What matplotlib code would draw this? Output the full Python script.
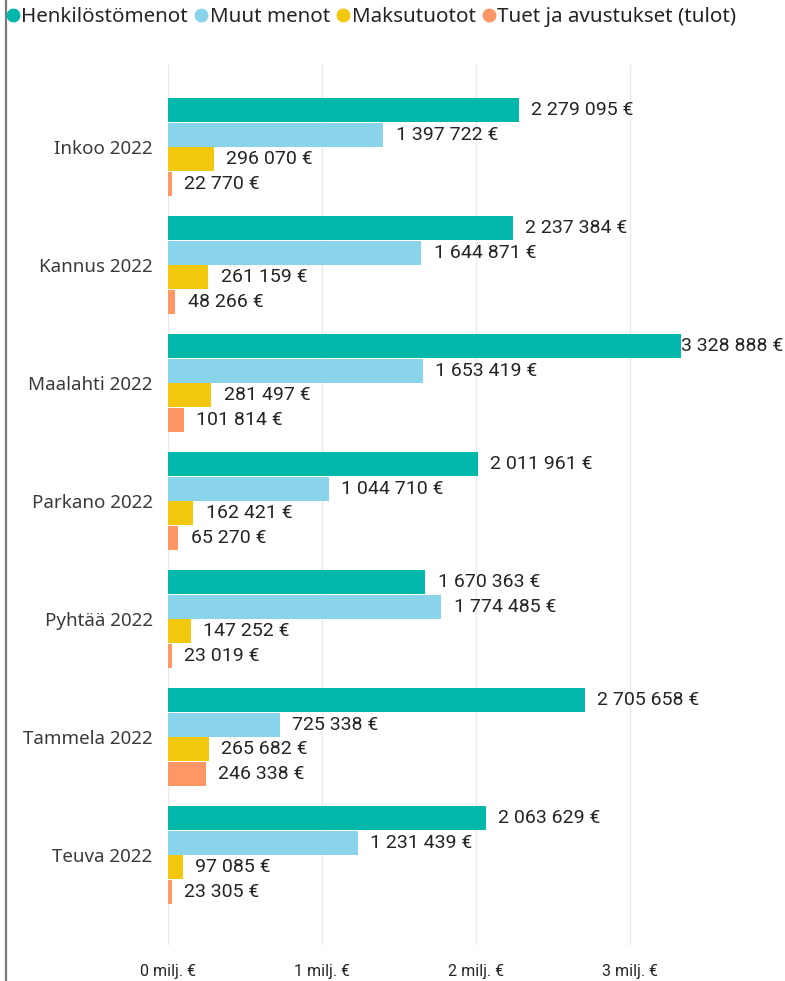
import numpy as np
import matplotlib
matplotlib.use("Agg")
import matplotlib.pyplot as plt
from matplotlib.lines import Line2D

# data
kunnat = ["Inkoo 2022", "Kannus 2022", "Maalahti 2022", "Parkano 2022",
          "Pyhtää 2022", "Tammela 2022", "Teuva 2022"]
sarjat = ["Henkilöstömenot", "Muut menot", "Maksutuotot", "Tuet ja avustukset (tulot)"]
henkilosto = [2279095, 2237384, 3328888, 2011961, 1670363, 2705658, 2063629]
muut = [1397722, 1644871, 1653419, 1044710, 1774485, 725338, 1231439]
maksut = [296070, 261159, 281497, 162421, 147252, 265682, 97085]
tuet = [22770, 48266, 101814, 65270, 23019, 246338, 23305]
xticks = [0, 1e6, 2e6, 3e6]
xticklabels = ["0 milj. €", "1 milj. €", "2 milj. €", "3 milj. €"]

colors = ["#01B8AA", "#8AD4EB", "#F2C80F", "#FE9666"]
values = [henkilosto, muut, maksut, tuet]

W, H = 785, 981
fig = plt.figure(figsize=(W / 100, H / 100), dpi=100)
x0, x1 = 168, 780
px_per_m = 154.0
y_top, y_bot = 65, 945
ax = fig.add_axes([x0 / W, 1 - y_bot / H, (x1 - x0) / W, (y_bot - y_top) / H])

step = 118.0
first = 147.0
ymin = -(first - y_top) / step
ymax = (6 + (y_bot - (first + 6 * step)) / step)
ax.set_ylim(ymax, ymin)
xmax = (x1 - x0) / px_per_m * 1e6
ax.set_xlim(0, xmax)

y = np.arange(len(kunnat))
bh = 24.5 / step
lab_font = dict(family="Roboto", fontsize=14, color="#252423")
for i, (vals, c) in enumerate(zip(values, colors)):
    pos = y + (i - 1.5) * bh
    ax.barh(pos, vals, height=bh * 0.96, color=c, zorder=2)
    for p, v in zip(pos, vals):
        txt = f"{v:,}".replace(",", " ") + " €"
        # push label inside the view when it would overflow
        off = 9 if v < 3.1e6 else 0
        ax.annotate(txt, (v, p), xytext=(off, 0), textcoords="offset points",
                    va="center", ha="left", **lab_font)

ax.set_yticks(y)
ax.set_yticklabels(kunnat, family="Noto Sans", fontsize=13.5, color="#3b3a39")
ax.set_xticks(xticks)
ax.set_xticklabels(xticklabels, family="Roboto", fontsize=11.5, color="#252423")
ax.tick_params(axis="both", length=0)
ax.tick_params(axis="x", pad=14)
ax.tick_params(axis="y", pad=11)
ax.grid(axis="x", color="#eaeaea", linewidth=1, zorder=0)
ax.set_axisbelow(True)
for s in ax.spines.values():
    s.set_visible(False)

handles = [Line2D([], [], marker="o", linestyle="", markersize=9,
                  markerfacecolor=c, markeredgecolor=c) for c in colors]
fig.legend(handles, sarjat, loc="center left", bbox_to_anchor=(8 / W, 1 - 17 / H),
           ncol=4, frameon=False, handlelength=0.5, handletextpad=0.15,
           columnspacing=0.4, borderpad=0, borderaxespad=0,
           prop=dict(family="Noto Sans", size=14.8), labelcolor="#252423")

# left border of the visual
fig.add_artist(Line2D([6 / W, 6 / W], [0, 1], color="#7a7a7a", linewidth=1.6))

fig.savefig("out.png", dpi=100)
